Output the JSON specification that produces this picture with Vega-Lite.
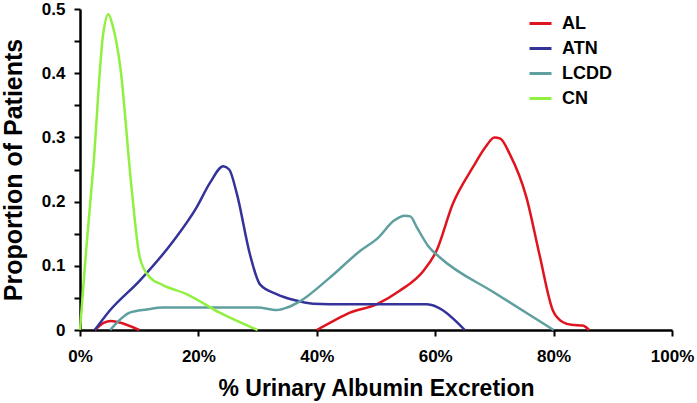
{
  "$schema": "https://vega.github.io/schema/vega-lite/v6.json",
  "autosize": {"type": "none"},
  "width": 592,
  "height": 321,
  "padding": {"left": 80, "top": 9, "right": 25, "bottom": 73},
  "background": "white",
  "config": {
    "view": {"stroke": null},
    "font": "Liberation Sans",
    "axis": {"grid": false, "domainColor": "black", "domainWidth": 2.5, "tickColor": "black", "tickWidth": 2, "labelColor": "black", "titleColor": "black", "labelFont": "Liberation Sans", "titleFont": "Liberation Sans", "labelFontWeight": "bold", "titleFontWeight": "bold", "labelFontSize": 17, "labelFlush": false, "labelOverlap": false}
  },
  "data": {
    "values": [
      {"g": "AL", "seg": "AL1", "x": 2.5, "y": 0},
      {"g": "AL", "seg": "AL1", "x": 4, "y": 0.011},
      {"g": "AL", "seg": "AL1", "x": 5.2, "y": 0.014},
      {"g": "AL", "seg": "AL1", "x": 6.5, "y": 0.012},
      {"g": "AL", "seg": "AL1", "x": 10, "y": 0},
      {"g": "AL", "seg": "AL2", "x": 40, "y": 0},
      {"g": "AL", "seg": "AL2", "x": 43, "y": 0.015},
      {"g": "AL", "seg": "AL2", "x": 45.6, "y": 0.027},
      {"g": "AL", "seg": "AL2", "x": 50.1, "y": 0.04},
      {"g": "AL", "seg": "AL2", "x": 54, "y": 0.061},
      {"g": "AL", "seg": "AL2", "x": 58, "y": 0.092},
      {"g": "AL", "seg": "AL2", "x": 60.2, "y": 0.123},
      {"g": "AL", "seg": "AL2", "x": 63, "y": 0.197},
      {"g": "AL", "seg": "AL2", "x": 66.4, "y": 0.254},
      {"g": "AL", "seg": "AL2", "x": 68.5, "y": 0.285},
      {"g": "AL", "seg": "AL2", "x": 70, "y": 0.3},
      {"g": "AL", "seg": "AL2", "x": 71, "y": 0.298},
      {"g": "AL", "seg": "AL2", "x": 72.6, "y": 0.274},
      {"g": "AL", "seg": "AL2", "x": 75.4, "y": 0.207},
      {"g": "AL", "seg": "AL2", "x": 77.6, "y": 0.118},
      {"g": "AL", "seg": "AL2", "x": 79.9, "y": 0.03},
      {"g": "AL", "seg": "AL2", "x": 81.6, "y": 0.012},
      {"g": "AL", "seg": "AL2", "x": 83, "y": 0.008},
      {"g": "AL", "seg": "AL2", "x": 84.9, "y": 0.007},
      {"g": "AL", "seg": "AL2", "x": 86, "y": 0},
      {"g": "ATN", "seg": "ATN", "x": 2.5, "y": 0},
      {"g": "ATN", "seg": "ATN", "x": 5, "y": 0.03},
      {"g": "ATN", "seg": "ATN", "x": 10.1, "y": 0.077},
      {"g": "ATN", "seg": "ATN", "x": 15.8, "y": 0.139},
      {"g": "ATN", "seg": "ATN", "x": 19.7, "y": 0.191},
      {"g": "ATN", "seg": "ATN", "x": 22, "y": 0.23},
      {"g": "ATN", "seg": "ATN", "x": 24.2, "y": 0.255},
      {"g": "ATN", "seg": "ATN", "x": 25.2, "y": 0.25},
      {"g": "ATN", "seg": "ATN", "x": 26.5, "y": 0.212},
      {"g": "ATN", "seg": "ATN", "x": 28.7, "y": 0.118},
      {"g": "ATN", "seg": "ATN", "x": 30.4, "y": 0.071},
      {"g": "ATN", "seg": "ATN", "x": 33.2, "y": 0.056},
      {"g": "ATN", "seg": "ATN", "x": 36, "y": 0.047},
      {"g": "ATN", "seg": "ATN", "x": 39.4, "y": 0.041},
      {"g": "ATN", "seg": "ATN", "x": 45, "y": 0.04},
      {"g": "ATN", "seg": "ATN", "x": 55, "y": 0.04},
      {"g": "ATN", "seg": "ATN", "x": 58.5, "y": 0.04},
      {"g": "ATN", "seg": "ATN", "x": 60.5, "y": 0.035},
      {"g": "ATN", "seg": "ATN", "x": 65, "y": 0},
      {"g": "LCDD", "seg": "LCDD", "x": 5.1, "y": 0},
      {"g": "LCDD", "seg": "LCDD", "x": 8.4, "y": 0.027},
      {"g": "LCDD", "seg": "LCDD", "x": 11.3, "y": 0.032},
      {"g": "LCDD", "seg": "LCDD", "x": 14, "y": 0.035},
      {"g": "LCDD", "seg": "LCDD", "x": 20, "y": 0.035},
      {"g": "LCDD", "seg": "LCDD", "x": 30, "y": 0.035},
      {"g": "LCDD", "seg": "LCDD", "x": 33.2, "y": 0.031},
      {"g": "LCDD", "seg": "LCDD", "x": 35, "y": 0.035},
      {"g": "LCDD", "seg": "LCDD", "x": 37.2, "y": 0.045},
      {"g": "LCDD", "seg": "LCDD", "x": 42, "y": 0.08},
      {"g": "LCDD", "seg": "LCDD", "x": 47.3, "y": 0.123},
      {"g": "LCDD", "seg": "LCDD", "x": 50.4, "y": 0.144},
      {"g": "LCDD", "seg": "LCDD", "x": 53, "y": 0.17},
      {"g": "LCDD", "seg": "LCDD", "x": 54.9, "y": 0.178},
      {"g": "LCDD", "seg": "LCDD", "x": 55.8, "y": 0.177},
      {"g": "LCDD", "seg": "LCDD", "x": 56.9, "y": 0.16},
      {"g": "LCDD", "seg": "LCDD", "x": 58.8, "y": 0.131},
      {"g": "LCDD", "seg": "LCDD", "x": 60.8, "y": 0.113},
      {"g": "LCDD", "seg": "LCDD", "x": 70, "y": 0.058},
      {"g": "LCDD", "seg": "LCDD", "x": 80, "y": 0},
      {"g": "CN", "seg": "CN", "x": 0, "y": 0},
      {"g": "CN", "seg": "CN", "x": 1, "y": 0.12},
      {"g": "CN", "seg": "CN", "x": 2.25, "y": 0.254},
      {"g": "CN", "seg": "CN", "x": 3.9, "y": 0.46},
      {"g": "CN", "seg": "CN", "x": 4.8, "y": 0.492},
      {"g": "CN", "seg": "CN", "x": 5.5, "y": 0.475},
      {"g": "CN", "seg": "CN", "x": 6.8, "y": 0.41},
      {"g": "CN", "seg": "CN", "x": 8.7, "y": 0.222},
      {"g": "CN", "seg": "CN", "x": 10.1, "y": 0.113},
      {"g": "CN", "seg": "CN", "x": 11.8, "y": 0.082},
      {"g": "CN", "seg": "CN", "x": 14, "y": 0.07},
      {"g": "CN", "seg": "CN", "x": 18, "y": 0.056},
      {"g": "CN", "seg": "CN", "x": 23.6, "y": 0.027},
      {"g": "CN", "seg": "CN", "x": 30, "y": 0}
    ]
  },
  "mark": {"type": "line", "interpolate": "monotone", "strokeWidth": 2.5, "clip": false},
  "encoding": {
    "x": {
      "field": "x", "type": "quantitative",
      "scale": {"domain": [0, 100], "nice": false, "zero": false},
      "axis": {"values": [0, 20, 40, 60, 80, 100], "labelExpr": "datum.value + '%'", "tickSize": 6, "labelPadding": 12, "title": "% Urinary Albumin Excretion", "titleFontSize": 23, "titlePadding": 13}
    },
    "y": {
      "field": "y", "type": "quantitative",
      "scale": {"domain": [0, 0.5], "nice": false},
      "axis": {"values": [0, 0.05, 0.1, 0.15, 0.2, 0.25, 0.3, 0.35, 0.4, 0.45, 0.5], "labelExpr": "(round(datum.value * 100) % 10 == 0) ? format(datum.value, '.1~f') : ''", "tickSize": 6, "labelPadding": 9, "title": "Proportion of Patients", "titleFontSize": 25, "titlePadding": 15}
    },
    "color": {
      "field": "g", "type": "nominal",
      "scale": {"domain": ["AL", "ATN", "LCDD", "CN"], "range": ["#e0141e", "#33339a", "#5f9f9f", "#90f040"]},
      "legend": {"title": null, "orient": "none", "legendX": 448, "legendY": 2, "symbolType": "stroke", "symbolSize": 484, "symbolStrokeWidth": 3, "labelFontSize": 18, "labelFontWeight": "bold", "labelColor": "black", "labelFont": "Liberation Sans", "labelOffset": 9, "rowPadding": 3}
    },
    "detail": {"field": "seg", "type": "nominal"}
  }
}
